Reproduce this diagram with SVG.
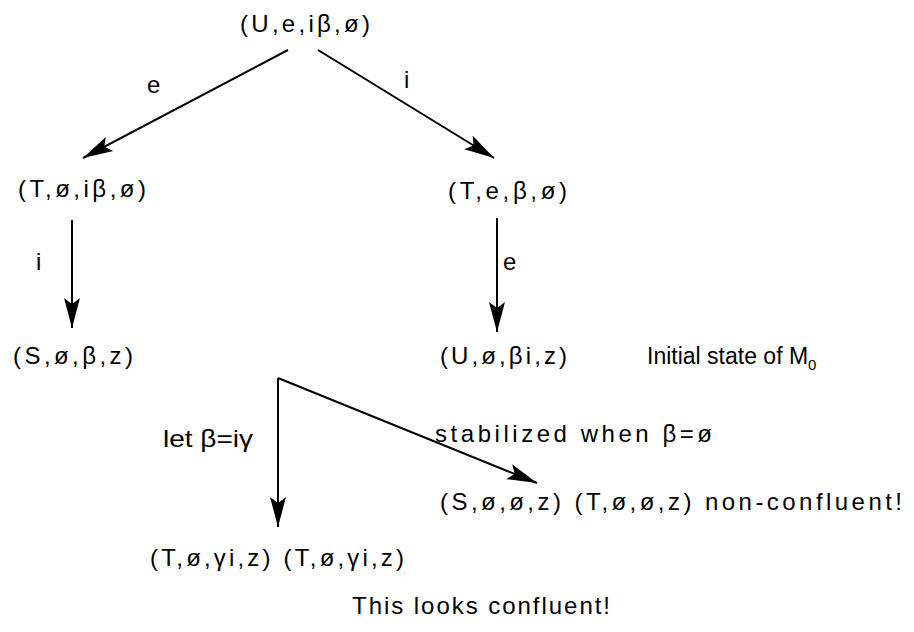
<svg xmlns="http://www.w3.org/2000/svg" width="914" height="632" viewBox="0 0 914 632">
<defs>
<marker id="ah" markerUnits="userSpaceOnUse" markerWidth="32" markerHeight="20" refX="30" refY="10" orient="auto">
<path d="M0,2 L30,10 L0,18 L6,10 Z" fill="#000"/>
</marker>
<style>
text{font-family:"Liberation Sans",Arial,sans-serif;font-size:24px;fill:#000}
.ln{stroke:#000;stroke-width:2;fill:none}
</style>
</defs>
<rect width="914" height="632" fill="#fff"/>
<g id="connectors">
<line class="ln" x1="288" y1="50" x2="83" y2="158" marker-end="url(#ah)"/>
<line class="ln" x1="318" y1="50" x2="494" y2="158" marker-end="url(#ah)"/>
<line class="ln" x1="72" y1="220" x2="72" y2="328" marker-end="url(#ah)"/>
<line class="ln" x1="497" y1="218" x2="497" y2="332" marker-end="url(#ah)"/>
<line class="ln" x1="278" y1="378" x2="278" y2="527" marker-end="url(#ah)"/>
<line class="ln" x1="278" y1="378" x2="537" y2="483" marker-end="url(#ah)"/>
<text x="147" y="93">e</text>
<text x="404" y="88">i</text>
<text x="36" y="270">i</text>
<text x="503" y="270">e</text>
<text x="163" y="447" textLength="90" lengthAdjust="spacingAndGlyphs">let β=iγ</text>
<text x="435" y="442" textLength="277" lengthAdjust="spacing">stabilized when β=ø</text>
</g>
<g id="n0"><text x="240" y="32" textLength="130" lengthAdjust="spacing">(U,e,iβ,ø)</text></g>
<g id="n1"><text x="18" y="197" textLength="128" lengthAdjust="spacing">(T,ø,iβ,ø)</text></g>
<g id="n2"><text x="448" y="199" textLength="119" lengthAdjust="spacing">(T,e,β,ø)</text></g>
<g id="n3"><text x="13" y="364" textLength="120" lengthAdjust="spacing">(S,ø,β,z)</text></g>
<g id="n4"><text x="440" y="364" textLength="127" lengthAdjust="spacing">(U,ø,βi,z)</text>
<text x="647" y="364" style="font-size:23px">Initial state of M<tspan dy="6" style="font-size:15px">0</tspan></text></g>
<g id="n5"><text x="150" y="566" textLength="254" lengthAdjust="spacing">(T,ø,γi,z) (T,ø,γi,z)</text>
<text x="352" y="614" textLength="258" lengthAdjust="spacing">This looks confluent!</text></g>
<g id="n6"><text x="440" y="510" textLength="462" lengthAdjust="spacing">(S,ø,ø,z) (T,ø,ø,z) non-confluent!</text></g>
</svg>
